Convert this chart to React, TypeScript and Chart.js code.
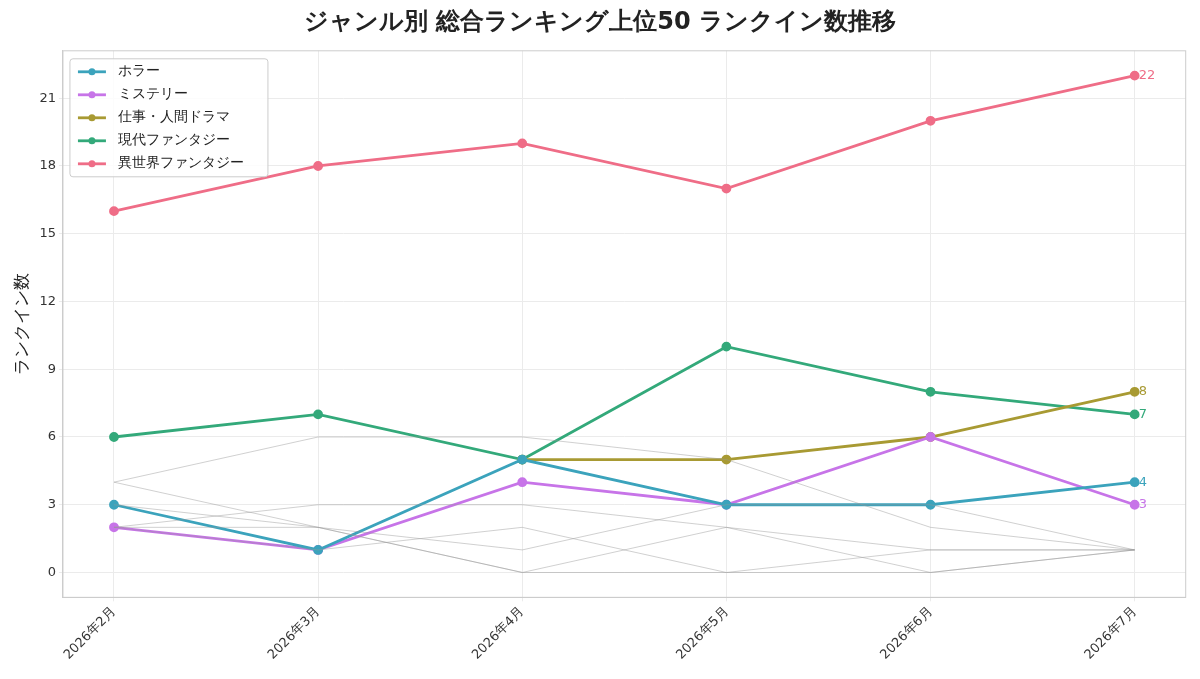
import React, { useEffect, useRef } from "react";
import { Chart, registerables } from "chart.js";
Chart.register(...registerables);

const months = ["2026年2月", "2026年3月", "2026年4月", "2026年5月", "2026年6月", "2026年7月"];
const yTicks = [0, 3, 6, 9, 12, 15, 18, 21];
const seriesNames = ["ホラー", "ミステリー", "仕事・人間ドラマ", "現代ファンタジー", "異世界ファンタジー"];
const seriesColors = ["#3ba3bc", "#c774e8", "#a89a33", "#33a97a", "#ef6d87"];
const horror = [3, 1, 5, 3, 3, 4];
const mystery = [2, 1, 4, 3, 6, 3];
const work = [null, null, 5, 5, 6, 8];
const modernFantasy = [6, 7, 5, 10, 8, 7];
const isekai = [16, 18, 19, 17, 20, 22];
const grayA = [4, 6, 6, 5, 2, 1];
const grayB = [4, 2, 0, 0, 0, 1];
const grayC = [3, 2, 1, 3, 3, 1];
const grayD = [2, 3, 3, 2, 1, 1];
const grayE = [2, 1, 2, 0, 1, 1];
const grayF = [2, 2, 0, 2, 0, 1];

const FONT = "'DejaVu Sans', sans-serif";

export default function App() {
  const ref = useRef<HTMLCanvasElement>(null);
  useEffect(() => {
    const mk = (d: (number | null)[]) => d.map((v, i) => ({ x: i, y: v }));
    const grays = [grayA, grayB, grayC, grayD, grayE, grayF].map((g) => ({
      data: mk(g), borderColor: "rgba(150,150,150,0.45)", borderWidth: 1, pointRadius: 0,
    }));
    const main = [horror, mystery, work, modernFantasy, isekai].map((d, i) => ({
      label: seriesNames[i], data: mk(d), borderColor: seriesColors[i], backgroundColor: seriesColors[i],
      borderWidth: 2.8, pointRadius: 3.5, pointHoverRadius: 3.5, spanGaps: false,
    }));
    const plugin = {
      id: "extras",
      afterDatasetsDraw(c: any) {
        const ctx = c.ctx;
        const xs = c.scales.x, ys = c.scales.y;
        const a = c.chartArea;
        ctx.save();
        ctx.strokeStyle = "#cccccc"; ctx.lineWidth = 1;
        ctx.strokeRect(a.left, a.top, a.right - a.left, a.bottom - a.top);
        ctx.font = `13px ${FONT}`;
        ctx.textBaseline = "middle";
        [horror, mystery, work, modernFantasy, isekai].forEach((d, i) => {
          const v = d[5] as number;
          ctx.fillStyle = seriesColors[i];
          ctx.fillText(String(v), xs.getPixelForValue(5) + 4, ys.getPixelForValue(v));
        });
        const lx = a.left + 7, ly = a.top + 8;
        ctx.fillStyle = "rgba(255,255,255,0.85)";
        ctx.strokeStyle = "#cccccc";
        ctx.beginPath();
        ctx.roundRect(lx, ly, 198, 118, 3);
        ctx.fill(); ctx.stroke();
        ctx.font = `14px ${FONT}`;
        seriesNames.forEach((n, i) => {
          const y = ly + 13 + i * 23;
          ctx.strokeStyle = seriesColors[i]; ctx.fillStyle = seriesColors[i];
          ctx.lineWidth = 2.8;
          ctx.beginPath(); ctx.moveTo(lx + 8, y); ctx.lineTo(lx + 36, y); ctx.stroke();
          ctx.beginPath(); ctx.arc(lx + 22, y, 3.5, 0, Math.PI * 2); ctx.fill();
          ctx.fillStyle = "#222";
          ctx.fillText(n, lx + 48, y);
        });
        ctx.restore();
      },
    };
    const chart = new Chart(ref.current!, {
      type: "line",
      data: { datasets: [...grays, ...main] as any },
      plugins: [plugin],
      options: {
        animation: false, responsive: false,
        layout: { padding: { left: 0, right: 0, top: 0, bottom: 5 } },
        plugins: {
          legend: { display: false }, tooltip: { enabled: false },
          title: { display: true, text: "ジャンル別 総合ランキング上位50 ランクイン数推移", color: "#222",
            font: { family: FONT, size: 24, weight: "bold" }, padding: { top: 0, bottom: 14 } },
        },
        scales: {
          x: {
            type: "linear", min: -0.25, max: 5.25,
            afterBuildTicks: (s: any) => { s.ticks = months.map((_, i) => ({ value: i })); },
            ticks: { callback: (v: any) => months[v] ?? "", maxRotation: 45, minRotation: 45, color: "#333", font: { family: FONT, size: 13 } },
            grid: { color: "#ebebeb", tickLength: 4 },
            border: { color: "#cccccc" },
          },
          y: {
            min: -1.1, max: 23.1,
            afterBuildTicks: (s: any) => { s.ticks = yTicks.map((v) => ({ value: v })); },
            ticks: { color: "#333", font: { family: FONT, size: 13 } },
            grid: { color: "#ebebeb", tickLength: 4 },
            border: { color: "#cccccc" },
            title: { display: true, text: "ランクイン数", color: "#222", font: { family: FONT, size: 17 } },
          },
        },
      } as any,
    });
    return () => chart.destroy();
  }, []);
  return <canvas ref={ref} width={1184} height={663} style={{ display: "block" }} />;
}
